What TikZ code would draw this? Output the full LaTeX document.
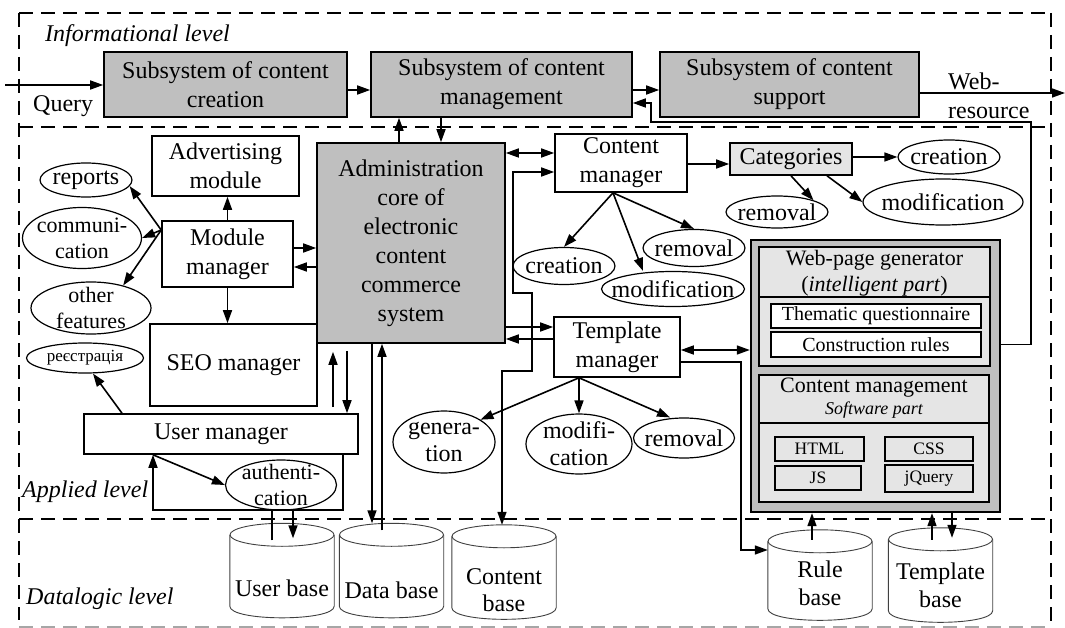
\documentclass[tikz,border=0pt]{standalone}
\usepackage{fontspec}
\setmainfont{Liberation Serif}
\usepackage{tikz}
\usetikzlibrary{calc,positioning,shapes.geometric,arrows.meta}

\newcommand\dbshape[1]{%
    \draw[dbline] ($(#1.north)+(0,11.5)$) ellipse [x radius=52pt, y radius=11.5pt];
    \draw[dbline] ($(#1.north west)+(0,11.5)$) -- ($(#1.south west)+(0,-11.5)$)
        .. controls ($(#1.south west)+(0,4)$) and ($(#1.south east)+(0,4)$) .. ($(#1.south east)+(0,-11.5)$)
        -- ($(#1.north east)+(0,11.5)$);
}

\begin{document}
\begin{tikzpicture}[
        x=1pt, y=-1pt,
        font=\fontsize{24}{29}\selectfont,
        >={Triangle[length=13pt,width=9pt]},
        conn/.style={line width=1.6pt},
        box/.style={draw, line width=1.6pt, fill=white, inner sep=0pt, align=center},
        graybox/.style={box, fill=black!25},
        lightbox/.style={box, fill=black!10},
        oval/.style={ellipse, draw, line width=1.2pt, inner sep=-12pt, align=center},
        smalloval/.style={oval, font=\fontsize{22}{26}\selectfont},
        store/.style={inner sep=0pt, minimum width=104pt, minimum height=94pt},
        dbline/.style={draw=black!75, line width=0.9pt},
        dbtext/.style={align=center, inner sep=0pt},
        lvl/.style={font=\itshape\fontsize{24}{29}\selectfont, inner sep=0pt, anchor=base west},
        frame/.style={line width=1.5pt, dash pattern=on 14pt off 8pt},
        tag/.style={inner sep=0pt},
        webfont/.style={font=\fontsize{17.5}{20}\selectfont}
    ]
        \useasboundingbox (0,0) rectangle (1065,628);

        \draw[frame] (19,13) -- (1051,13);
        \draw[frame] (19,127) -- (1051,127);
        \draw[frame] (19,519) -- (1051,519);
        \draw[frame] (19,13) -- (19,620);
        \draw[frame] (1051,13) -- (1051,628);
        \draw[frame, black!35] (19,627) -- (1051,627);

        \node[lvl] (infolvl) at (45,42) {Informational level};
        \node[lvl] (applvl) at (22,497) {Applied level};
        \node[lvl] (datalvl) at (26,604) {Datalogic level};

        \node[graybox, minimum width=243pt, minimum height=65pt] (crt) at (225.5,84.5) {Subsystem of content\\creation};
        \node[graybox, minimum width=261pt, minimum height=65pt] (mgt) at (501.5,84.5) {Subsystem of content\\management};
        \node[graybox, minimum width=259pt, minimum height=65pt] (sup) at (789.5,84.5) {Subsystem of content\\support};
        \coordinate (qin) at (5,85);
        \coordinate (wout) at (1065,93);
        \node[tag, anchor=base west] (qry) at (33,112) {Query};
        \node[tag, anchor=west, align=left] (webres) at (948,96) {Web-\\resource};

        \node[box, minimum width=147pt, minimum height=60pt] (adv) at (225.5,166) {Advertising\\module};
        \node[box, minimum width=131pt, minimum height=66pt] (modmgr) at (227.5,254) {Module\\manager};
        \node[box, minimum width=167pt, minimum height=82pt] (seo) at (233.5,365) {SEO manager};
        \node[box, minimum width=274pt, minimum height=40pt] (usrmgr) at (221,434) {User manager};
        \node[graybox, minimum width=188pt, minimum height=200pt] (core) at (411,243)
            {Administration\\core of\\electronic\\content\\commerce\\system};

        \node[oval, minimum width=92pt, minimum height=34pt] (reports) at (86,180) {reports};
        \node[smalloval, minimum width=119pt, minimum height=61pt] (comm) at (82,238) {communi-\\cation};
        \node[smalloval, minimum width=120pt, minimum height=52pt] (other) at (91,308) {other\\features};
        \node[oval, font=\fontsize{17}{20}\selectfont, minimum width=117pt, minimum height=30pt] (reg) at (85,358) {реєстрація};
        \node[smalloval, minimum width=111pt, minimum height=50pt] (auth) at (281,485) {authenti-\\cation};

        \node[box, minimum width=132pt, minimum height=58pt] (cntmgr) at (621,163) {Content\\manager};
        \node[lightbox, minimum width=122pt, minimum height=32pt] (cat) at (791,159) {Categories};
        \node[oval, minimum width=102pt, minimum height=34pt] (catcre) at (949,157) {creation};
        \node[oval, minimum width=160pt, minimum height=46pt] (catmod) at (943,202) {modification};
        \node[oval, minimum width=102pt, minimum height=32pt] (catrem) at (777,212) {removal};
        \node[oval, minimum width=102pt, minimum height=37pt] (cmcre) at (564,266) {creation};
        \node[oval, minimum width=143pt, minimum height=35pt] (cmmod) at (673,289) {modification};
        \node[oval, minimum width=102pt, minimum height=37pt] (cmrem) at (694,248) {removal};
        \node[box, minimum width=126pt, minimum height=60pt] (tplmgr) at (617,347) {Template\\manager};
        \node[oval, minimum width=102pt, minimum height=62pt] (gen) at (444,442) {genera-\\[-2pt]tion};
        \node[oval, minimum width=106pt, minimum height=60pt] (tmod) at (579,444) {modifi-\\[-2pt]cation};
        \node[oval, minimum width=101pt, minimum height=40pt] (trem) at (684,438) {removal};

        \node[graybox, line width=2.4pt, minimum width=249pt, minimum height=272pt] (wpg) at (875.5,376) {};
        \node[lightbox, minimum width=231pt, minimum height=119pt] (wpgup) at (874.5,306.5) {};
        \node[tag, font=\fontsize{22}{26}\selectfont, align=center] (wpgtit) at (874.5,273)
            {Web-page generator\\(\textit{intelligent part})};
        \draw[line width=1.2pt] (wpgup.west |- 0,297) -- (wpgup.east |- 0,297);
        \node[box, font=\fontsize{20}{24}\selectfont, minimum width=210pt, minimum height=24pt] (tq) at (876,316) {Thematic questionnaire};
        \node[box, font=\fontsize{20}{24}\selectfont, minimum width=210pt, minimum height=25pt] (cr) at (876,344.5) {Construction rules};
        \node[lightbox, minimum width=230pt, minimum height=127pt] (wpglo) at (874,438.5) {};
        \node[tag, font=\fontsize{22}{26}\selectfont, align=center] (cmtit) at (874,398)
            {Content management\\[-4pt]{\fontsize{18}{20}\selectfont\itshape Software part}};
        \draw[line width=1.2pt] (wpglo.west |- 0,423) -- (wpglo.east |- 0,423);
        \node[lightbox, webfont, minimum width=89pt, minimum height=24pt] (html) at (819.5,449) {HTML};
        \node[lightbox, webfont, minimum width=88pt, minimum height=24pt] (css) at (929,449) {CSS};
        \node[lightbox, webfont, minimum width=86pt, minimum height=24pt] (js) at (818,478) {JS};
        \node[lightbox, webfont, minimum width=88pt, minimum height=27pt] (jq) at (929,478.5) {jQuery};

        \node[store] (ubase) at (282,570.5) {};
        \node[store] (datbase) at (391.5,570.5) {};
        \node[store] (cbase) at (504,572) {};
        \node[store, minimum height=90pt] (rbase) at (820,575) {};
        \node[store] (tbase) at (940.5,575) {};
        \dbshape{ubase}
        \dbshape{datbase}
        \dbshape{cbase}
        \dbshape{rbase}
        \dbshape{tbase}
        \node[dbtext] (ubasetxt) at (282,588) {User base};
        \node[dbtext] (datbasetxt) at (391.5,590) {Data base};
        \node[dbtext] (cbasetxt) at (504,590) {Content\\[-2pt]base};
        \node[dbtext] (rbasetxt) at (820,583) {Rule\\[-1pt]base};
        \node[dbtext] (tbasetxt) at (940.5,585) {Template\\[-1pt]base};

        \draw[conn,->] (qin) -- (qin -| crt.west);
        \draw[conn,->] ([yshift=-5.5pt]crt.east) -- ([yshift=-5.5pt]mgt.west);
        \draw[conn,->] ([yshift=-5.5pt]mgt.east) -- ([yshift=-5.5pt]sup.west);
        \draw[conn,->] (sup.east |- wout) -- (wout);
        \draw[conn,->] (wpg.east |- cr.center) -| (1031,122) -- (651,122) -- (651,103) -- (mgt.east |- 0,103);
        \draw[conn,->] (core.north -| 399,0) -- (mgt.south -| 399,0);
        \draw[conn,->] (mgt.south -| 441,0) -- (core.north -| 441,0);

        \draw[conn,<->] (core.east |- 0,153) -- (cntmgr.west |- 0,153);
        \draw[conn,<->] (cntmgr.west |- 0,172) -- (513,172) -- (513,293) -- (532,293) -- (532,371)
            -- (502,371) -- (cbase.north -| 502,0);
        \draw[conn,->] (cntmgr.east |- 0,164) -- (cat.west |- 0,164);
        \draw[conn,->] (cat.east |- catcre.west) -- (catcre.west);
        \draw[conn,->] ([xshift=36pt]cat.south) -- (catmod.west);
        \draw[conn,->] (cat.south) -- (catrem.north east);
        \coordinate (cmsrc) at ([xshift=-8pt]cntmgr.south);
        \draw[conn,->] (cmsrc) -- (cmcre.north);
        \draw[conn,->] (cmsrc) -- ([xshift=-30pt]cmmod.north);
        \draw[conn,->] (cmsrc) -- (cmrem.north);

        \draw[conn,->] (core.east |- 0,327) -- (tplmgr.west |- 0,327);
        \draw[conn,->] (tplmgr.west |- 0,339) -- (core.east |- 0,339);
        \draw[conn,<->] (tplmgr.east |- 0,350) -- (wpg.west |- 0,350);
        \draw[conn,->] (tplmgr.east |- 0,362) -- (741,362) -- (741,550) -- (rbase.west |- 0,550);
        \coordinate (tsrc) at ([xshift=-38pt]tplmgr.south);
        \draw[conn,->] (tsrc) -- (gen.north east);
        \draw[conn,->] (tsrc) -- (tmod.north);
        \draw[conn,->] (tsrc) -- ([xshift=-14pt]trem.north);

        \draw[conn,->,shorten <=6pt,shorten >=8pt] (usrmgr.north -| 333,0) -- (core.south -| 333,0);
        \draw[conn,->,shorten <=7pt] (core.south -| 347,0) -- (usrmgr.north -| 347,0);
        \draw[conn,->] (core.south -| 372,0) -- (datbase.north -| 372,0);
        \draw[conn,->] ($(datbase.north -| 382,0)+(0,7)$) -- (core.south -| 382,0);

        \draw[conn,->] (modmgr.north) -- (modmgr.north |- adv.south);
        \draw[conn,->] (modmgr.south) -- (modmgr.south |- seo.north);
        \draw[conn,->] (modmgr.east |- 0,248) -- (core.west |- 0,248);
        \draw[conn,->] (core.west |- 0,267) -- (modmgr.east |- 0,267);
        \coordinate (msrc) at (modmgr.west |- 0,230);
        \draw[conn,->] (msrc) -- (reports.-8);
        \draw[conn,->] (msrc) -- (comm.east);
        \draw[conn,->] (msrc) -- (other.35);

        \draw[conn,->] (usrmgr.north -| 122,0) -- ([xshift=8pt]reg.south);
        \draw[conn,->] (usrmgr.south -| 153,0) -- (auth.west);
        \draw[conn,->] (usrmgr.south -| 343,0) |- (153,510) -- (usrmgr.south -| 153,0);
        \draw[conn] ($(ubase.north -| 272,0)+(0,17)$) -- (272,510);
        \draw[conn,->] (auth.south -| 293,0) -- ($(ubase.north -| 293,0)+(0,15)$);

        \draw[conn,->] ($(rbase.north -| 812,0)+(0,10)$) -- (wpg.south -| 812,0);
        \draw[conn,->] ($(tbase.north -| 932,0)+(0,12)$) -- (wpg.south -| 932,0);
        \draw[conn,->] (wpg.south -| 952,0) -- ($(tbase.north -| 952,0)+(0,10)$);
    \end{tikzpicture}
\end{document}
